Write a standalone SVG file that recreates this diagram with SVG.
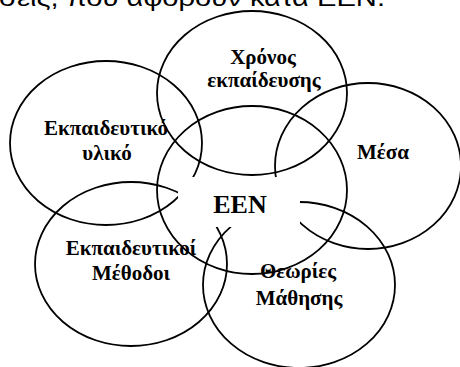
<svg xmlns="http://www.w3.org/2000/svg" width="460" height="367" viewBox="0 0 460 367">
  <style>
    .ring { fill: none; stroke: #000; stroke-width: 1.8; }
    .label { font-family: "Liberation Serif", "Times New Roman", serif; font-weight: bold; font-size: 21px; fill: #000; text-anchor: middle; }
    .core { font-size: 26px; }
    .body { font-family: "Liberation Sans", Arial, sans-serif; font-size: 24px; fill: #000; }
  </style>

  <rect x="0" y="0" width="460" height="367" fill="#fff"/>

  <!-- last line of the preceding paragraph, cut off by the frame -->
  <text class="body" x="-1" y="6" textLength="386" lengthAdjust="spacingAndGlyphs">σεις, που αφορούν κατά ΕΕΝ.</text>

  <g id="node-time">
    <ellipse class="ring" cx="252" cy="93" rx="95" ry="82"/>
  </g>
  <g id="node-media">
    <ellipse class="ring" cx="368" cy="166" rx="93" ry="83"/>
  </g>
  <g id="node-material">
    <ellipse class="ring" cx="106" cy="143" rx="96" ry="82"/>
  </g>
  <g id="node-methods">
    <ellipse class="ring" cx="131" cy="264" rx="96" ry="82"/>
  </g>
  <g id="node-theories">
    <ellipse class="ring" cx="299" cy="285" rx="96" ry="83"/>
  </g>
  <g id="node-center">
    <ellipse class="ring" cx="252" cy="190" rx="95" ry="84"/>
  </g>

  <!-- labels -->
  <g id="labels">
    <text class="label" x="263" y="64">Χρόνος</text>
    <text class="label" x="264" y="87">εκπαίδευσης</text>
    <text class="label" x="106" y="135">Εκπαιδευτικό</text>
    <text class="label" x="107" y="160">υλικό</text>
    <text class="label" x="383" y="159">Μέσα</text>
    <text class="label" x="131" y="255">Εκπαιδευτικοί</text>
    <text class="label" x="131" y="280">Μέθοδοι</text>
    <text class="label" x="298" y="278">Θεωρίες</text>
    <text class="label" x="299" y="305">Μάθησης</text>
  </g>

  <!-- central label on a white patch that masks the crossing rings -->
  <g id="center-label">
    <rect x="178" y="177" width="122" height="50" fill="#fff"/>
    <text class="label core" x="240" y="213">EEN</text>
  </g>
</svg>
